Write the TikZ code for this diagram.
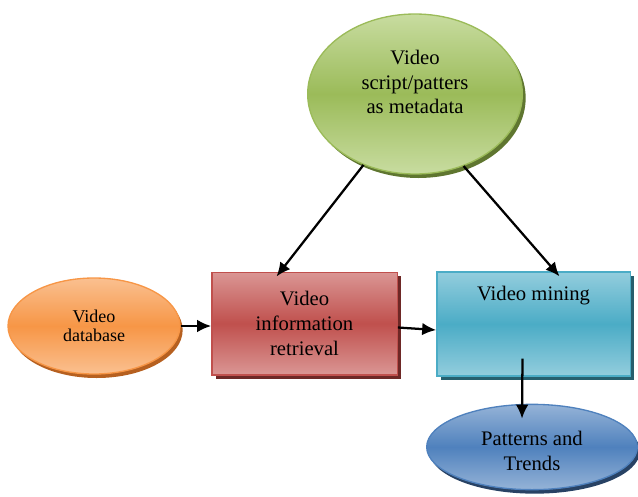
\documentclass[tikz,border=0pt]{standalone}
\usepackage{fontspec}
\setmainfont{Liberation Serif}
\usetikzlibrary{shapes.geometric, shadows, calc, arrows.meta}

\definecolor{grn}{RGB}{155,187,89}
\definecolor{grnlt}{RGB}{200,220,160}
\definecolor{grndk}{RGB}{95,118,48}
\definecolor{org}{RGB}{247,150,70}
\definecolor{orglt}{RGB}{250,192,144}
\definecolor{orgdk}{RGB}{182,96,32}
\definecolor{rd}{RGB}{192,80,77}
\definecolor{rdlt}{RGB}{218,150,148}
\definecolor{rddk}{RGB}{110,40,38}
\definecolor{cy}{RGB}{75,172,198}
\definecolor{cylt}{RGB}{147,205,221}
\definecolor{cydk}{RGB}{38,95,110}
\definecolor{bl}{RGB}{79,129,189}
\definecolor{bllt}{RGB}{149,179,215}
\definecolor{bldk}{RGB}{40,66,100}

\begin{document}
\begin{tikzpicture}[x=0.75pt,y=-0.75pt,
    bubble/.style={ellipse, inner sep=0pt, align=center, line width=1pt},
    box/.style={rectangle, inner sep=0pt, align=center, line width=1pt},
    txt/.style={align=center, font=\fontsize{15.5}{18.5}\selectfont},
    arr/.style={line width=1.7pt, -{Latex[length=10.5pt,width=9.5pt]}}]
  \useasboundingbox (0,0) rectangle (638,496);
  % shapes
  \node[bubble, minimum width=161pt, minimum height=120pt, draw=grn,
    top color=grnlt, bottom color=grnlt, middle color=grn,
    drop shadow={fill=grndk, opacity=1, shadow xshift=2.5pt, shadow yshift=-3pt}]
    (meta) at (415,94) {};
  \node[txt] (metatext) at (415,82) {Video\\script/patters\\as metadata};
  \node[bubble, minimum width=129pt, minimum height=72pt, draw=org,
    top color=orglt, bottom color=orglt, middle color=org,
    font=\fontsize{13.5}{14.6}\selectfont,
    drop shadow={fill=orgdk, opacity=1, shadow xshift=2pt, shadow yshift=-3pt}]
    (db) at (94,326) {Video\\database};
  \node[box, minimum width=139pt, minimum height=77pt, draw=rd,
    top color=rdlt, bottom color=rdlt, middle color=rd,
    drop shadow={fill=rddk, opacity=1, shadow xshift=3pt, shadow yshift=-3pt},
    txt] (vir) at (304.5,323.5) {Video\\information\\retrieval};
  \node[box, minimum width=145pt, minimum height=78pt, draw=cy,
    top color=cylt, bottom color=cylt, middle color=cy,
    drop shadow={fill=cydk, opacity=1, shadow xshift=3pt, shadow yshift=-3pt}]
    (mine) at (533.5,324) {};
  \node[txt] (minetext) at (533.5,296) {Video mining};
  \node[bubble, minimum width=158pt, minimum height=64pt, draw=bl,
    top color=bllt, bottom color=bllt, middle color=bl,
    drop shadow={fill=bldk, opacity=1, shadow xshift=2pt, shadow yshift=-3pt}]
    (trend) at (532,447) {};
  \node[txt] (trendtext) at (532,451) {Patterns and\\Trends};
  % arrows
  \draw[arr] (meta.234) -- ($(vir.north)+(-28,5)$);
  \draw[arr] (meta.304) -- ($(mine.north)+(26,5)$);
  \draw[arr] (db.east) -- (db.east -| vir.west);
  \draw[arr] ($(vir.east)+(0,4)$) -- ($(mine.west)+(0,6)$);
  \draw[arr] ($(mine.south)+(-11,-18)$) -- ($(trend.north)+(-10,15)$);
\end{tikzpicture}
\end{document}
